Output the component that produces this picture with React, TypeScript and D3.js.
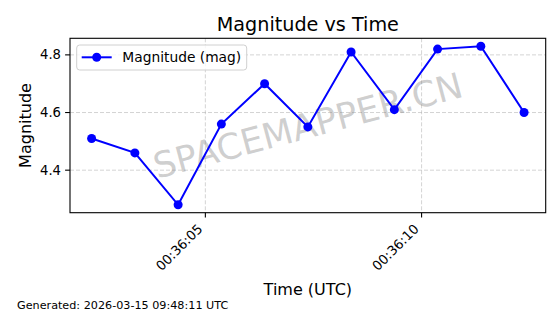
import React from "react";
import * as d3 from "d3";

const times = [
  "00:36:02.370", "00:36:03.370", "00:36:04.370", "00:36:05.370",
  "00:36:06.370", "00:36:07.370", "00:36:08.370", "00:36:09.370",
  "00:36:10.370", "00:36:11.370", "00:36:12.370",
];
const magnitudes = [4.51, 4.46, 4.28, 4.56, 4.70, 4.55, 4.81, 4.61, 4.82, 4.83, 4.60];
const yTicks = [4.4, 4.6, 4.8];
const xTicks = ["00:36:05.000", "00:36:10.000"];
const title = "Magnitude vs Time";
const xLabel = "Time (UTC)";
const yLabel = "Magnitude";
const seriesName = "Magnitude (mag)";
const footer = "Generated: 2026-03-15 09:48:11 UTC";
const watermark = "SPACEMAPPER.CN";

const W = 560, H = 314;
const L = 70, R = 545.7, T = 38.3, B = 212.7;
const FONT = "DejaVu Sans, sans-serif";

export default function App() {
  const parse = d3.utcParse("%H:%M:%S.%L");
  const fmt = d3.utcFormat("%H:%M:%S");
  const t = times.map((s) => parse(s) as Date);
  const tx = xTicks.map((s) => parse(s) as Date);
  const [t0, t1] = d3.extent(t) as [Date, Date];
  const pad = (t1.getTime() - t0.getTime()) * 0.05;
  const x = d3.scaleUtc()
    .domain([new Date(t0.getTime() - pad), new Date(t1.getTime() + pad)])
    .range([L, R]);
  const [m0, m1] = d3.extent(magnitudes) as [number, number];
  const mp = (m1 - m0) * 0.05;
  const y = d3.scaleLinear().domain([m0 - mp, m1 + mp]).range([B, T]);
  const line = d3.line<number>()
    .x((_, i) => x(t[i]))
    .y((d) => y(d));
  const blue = "#0000ff";
  const grid = "#b0b0b0";
  const cx = (L + R) / 2, cy = (T + B) / 2;

  return (
    <svg width={W} height={H} style={{ position: "absolute", left: 0, top: 0, background: "#fff" }} fontFamily={FONT}>
      <rect x={0} y={0} width={W} height={H} fill="#fff" />
      {/* grid */}
      {yTicks.map((v) => (
        <line key={"gy" + v} x1={L} x2={R} y1={y(v)} y2={y(v)} stroke={grid} strokeOpacity={0.7} strokeWidth={0.8} strokeDasharray="4,2" />
      ))}
      {tx.map((d, i) => (
        <line key={"gx" + i} x1={x(d)} x2={x(d)} y1={T} y2={B} stroke={grid} strokeOpacity={0.7} strokeWidth={0.8} strokeDasharray="4,2" />
      ))}
      {/* watermark */}
      <text x={cx} y={cy} transform={`rotate(-15 ${cx} ${cy})`} textAnchor="middle" dominantBaseline="central" fontSize={35.5} fill="#808080" fillOpacity={0.38}>
        {watermark}
      </text>
      {/* series */}
      <path d={line(magnitudes) || ""} fill="none" stroke={blue} strokeWidth={2} />
      {magnitudes.map((v, i) => (
        <circle key={i} cx={x(t[i])} cy={y(v)} r={4.5} fill={blue} />
      ))}
      {/* spines */}
      <rect x={L} y={T} width={R - L} height={B - T} fill="none" stroke="#000" strokeWidth={1.1} />
      {/* y ticks */}
      {yTicks.map((v) => (
        <g key={"yt" + v}>
          <line x1={L - 4.9} x2={L} y1={y(v)} y2={y(v)} stroke="#000" strokeWidth={1.1} />
          <text x={L - 9} y={y(v)} textAnchor="end" dominantBaseline="central" fontSize={13.2} fill="#000">
            {d3.format(".1f")(v)}
          </text>
        </g>
      ))}
      {/* x ticks */}
      {tx.map((d, i) => (
        <g key={"xt" + i}>
          <line x1={x(d)} x2={x(d)} y1={B} y2={B + 4.9} stroke="#000" strokeWidth={1.1} />
          <text transform={`translate(${x(d) - 2} ${B + 17}) rotate(-45)`} textAnchor="end" fontSize={13.2} fill="#000">
            {fmt(d)}
          </text>
        </g>
      ))}
      {/* legend */}
      <rect x={76.7} y={45} width={170} height={25} rx={3} fill="#fff" fillOpacity={0.8} stroke="#d0d0d0" strokeWidth={1} />
      <line x1={81.7} x2={111.7} y1={57.3} y2={57.3} stroke={blue} strokeWidth={2} />
      <circle cx={96.7} cy={57.3} r={4.5} fill={blue} />
      <text x={122.3} y={57.3} dominantBaseline="central" fontSize={13.8} fill="#000">{seriesName}</text>
      {/* labels */}
      <text x={cx} y={30.5} textAnchor="middle" fontSize={19.2} fill="#000">{title}</text>
      <text x={cx} y={295} textAnchor="middle" fontSize={16} fill="#000">{xLabel}</text>
      <text transform={`translate(30.5 ${cy}) rotate(-90)`} textAnchor="middle" fontSize={16} fill="#000">{yLabel}</text>
      <text x={17} y={309} fontSize={11.2} fill="#000">{footer}</text>
    </svg>
  );
}
